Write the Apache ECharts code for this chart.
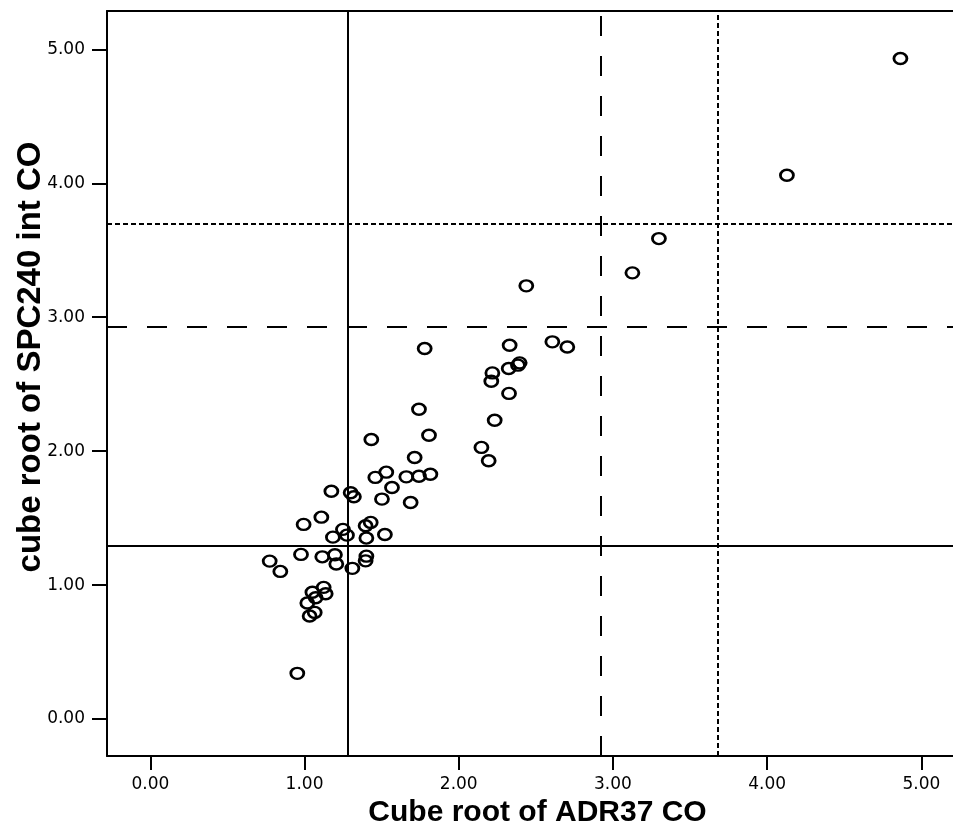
<!DOCTYPE html>
<html>
<head>
<meta charset="utf-8">
<script src="https://cdn.jsdelivr.net/npm/echarts@6/dist/echarts.min.js"></script>
<style>
  html, body { margin: 0; padding: 0; background: #fff; }
  #chart { width: 953px; height: 829px; }
</style>
</head>
<body>
<div id="chart"></div>
<script>
// values
const xVals = [
  1.742, 1.807, 1.433, 1.714, 1.530, 1.459, 1.660, 1.742, 1.816, 1.567,
  1.174, 1.299, 1.320, 1.502, 1.688, 1.109, 0.994, 1.429, 1.396, 1.249,
  1.184, 1.275, 1.401, 1.521, 0.774, 0.843, 0.977, 1.115, 1.197, 1.206,
  1.310, 1.401, 1.396, 1.124, 1.051, 1.137, 1.072, 1.018, 1.066, 1.033,
  0.953, 2.438, 1.779, 2.330, 2.607, 2.704, 2.324, 2.395, 2.384, 2.218,
  2.211, 2.326, 2.233, 2.147, 2.194, 3.298, 3.126, 4.864, 4.128
];
const yVals = [
  2.313, 2.119, 2.087, 1.953, 1.843, 1.804, 1.808, 1.813, 1.828, 1.729,
  1.701, 1.689, 1.659, 1.642, 1.617, 1.507, 1.453, 1.468, 1.443, 1.416,
  1.358, 1.373, 1.351, 1.378, 1.179, 1.102, 1.229, 1.211, 1.226, 1.157,
  1.125, 1.216, 1.181, 0.983, 0.946, 0.935, 0.905, 0.866, 0.796, 0.769,
  0.341, 3.234, 2.766, 2.791, 2.816, 2.778, 2.617, 2.659, 2.642, 2.584,
  2.522, 2.431, 2.231, 2.028, 1.928, 3.587, 3.331, 4.931, 4.060
];
const tickVals = [0, 1, 2, 3, 4, 5];
// reference lines: solid, dashed, dotted
const refX = [1.278, 2.918, 3.677];
const refY = [1.286, 2.928, 3.699];

const lineTypes = ['solid', [20, 20], [5, 3]];

const xMin = -0.281, xMax = 5.205;
const yMin = -0.276, yMax = 5.286;

const chart = echarts.init(document.getElementById('chart'));

const points = xVals.map((x, i) => [x, yVals[i]]);

const markData = [];
refX.forEach((v, i) => {
  markData.push({ xAxis: v, lineStyle: { type: lineTypes[i] } });
});
refY.forEach((v, i) => {
  markData.push({ yAxis: v, lineStyle: { type: lineTypes[i] } });
});

const tickLabel = {
  color: '#000',
  fontFamily: 'DejaVu Sans',
  fontSize: 17,
  formatter: (v) => v.toFixed(2),
};
const blackLine = { color: '#000', width: 2 };

chart.setOption({
  animation: false,
  grid: {
    left: 107,
    top: 11,
    bottom: 73,
    right: 0,
    containLabel: false,
    outerBoundsMode: 'none',
  },
  xAxis: [
    {
      type: 'value',
      min: xMin,
      max: xMax,
      name: 'Cube root of ADR37 CO',
      nameLocation: 'middle',
      nameGap: 42,
      nameMoveOverlap: false,
      nameTextStyle: {
        color: '#000',
        fontFamily: 'Liberation Sans',
        fontWeight: 'bold',
        fontSize: 30,
        padding: [0, 0, 0, 15],
      },
      axisLine: { show: true, onZero: false, lineStyle: blackLine },
      axisTick: {
        show: true,
        customValues: tickVals,
        length: 14,
        lineStyle: blackLine,
      },
      axisLabel: Object.assign({ customValues: tickVals, margin: 20 }, tickLabel),
      splitLine: { show: false },
    },
    {
      // top frame line only
      type: 'value',
      position: 'top',
      min: xMin,
      max: xMax,
      axisLine: { show: true, onZero: false, lineStyle: blackLine },
      axisTick: { show: false },
      axisLabel: { show: false },
      splitLine: { show: false },
    },
  ],
  yAxis: {
    type: 'value',
    min: yMin,
    max: yMax,
    name: 'cube root of SPC240 int CO',
    nameLocation: 'middle',
    nameGap: 60,
    nameMoveOverlap: false,
    nameTextStyle: {
      color: '#000',
      fontFamily: 'Liberation Sans',
      fontWeight: 'bold',
      fontSize: 33,
      padding: [0, 0, 0, 53],
    },
    axisLine: { show: true, onZero: false, lineStyle: blackLine },
    axisTick: {
      show: true,
      customValues: tickVals,
      length: 15,
      lineStyle: blackLine,
    },
    axisLabel: Object.assign({ customValues: tickVals, margin: 22 }, tickLabel),
    splitLine: { show: false },
  },
  series: [
    {
      type: 'scatter',
      xAxisIndex: 0,
      data: points,
      symbol: 'path://M0,6a7.5,6 0 1,0 15,0a7.5,6 0 1,0 -15,0z',
      symbolSize: [13, 11],
      itemStyle: {
        color: 'transparent',
        borderColor: '#000',
        borderWidth: 2.6,
        opacity: 1,
      },
      markLine: {
        silent: true,
        symbol: 'none',
        label: { show: false },
        lineStyle: { color: '#000', width: 2, opacity: 1 },
        data: markData,
      },
    },
  ],
});
</script>
</body>
</html>
